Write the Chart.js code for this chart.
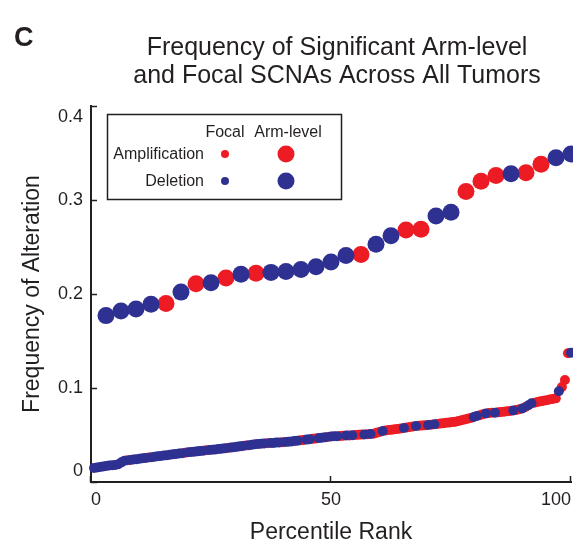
<!DOCTYPE html>
<html>
<head>
<meta charset="utf-8">
<script src="https://cdn.jsdelivr.net/npm/chart.js@4.4.1/dist/chart.umd.min.js"></script>
<style>
  html, body { margin: 0; padding: 0; background: #fff; }
</style>
</head>
<body>
<canvas id="scnaChart" width="573" height="546"></canvas>
<script>
// Arm-level SCNAs, sorted by frequency (A = amplification, D = deletion)
const armFreq = [
  0.177, 0.182, 0.184, 0.189, 0.190, 0.202, 0.211, 0.212, 0.217, 0.221,
  0.222, 0.223, 0.224, 0.226, 0.229, 0.234, 0.241, 0.242, 0.253, 0.262,
  0.268, 0.269, 0.283, 0.287, 0.309, 0.320, 0.326, 0.328, 0.329, 0.338,
  0.345, 0.349
];
const armType = 'DDDDADADADADDDDDDADDAADDAAADAADD';

// Focal SCNAs, sorted by frequency
const focalFreq = [
  0.0149, 0.0155, 0.0160, 0.0165, 0.0171, 0.0175, 0.0179, 0.0181, 0.0189, 0.0209,
  0.0227, 0.0231, 0.0235, 0.0239, 0.0243, 0.0248, 0.0252, 0.0256, 0.0260, 0.0264,
  0.0268, 0.0273, 0.0277, 0.0281, 0.0285, 0.0290, 0.0294, 0.0298, 0.0303, 0.0307,
  0.0311, 0.0316, 0.0320, 0.0323, 0.0326, 0.0330, 0.0333, 0.0337, 0.0340, 0.0344,
  0.0347, 0.0351, 0.0354, 0.0358, 0.0361, 0.0366, 0.0370, 0.0374, 0.0379, 0.0383,
  0.0388, 0.0392, 0.0396, 0.0401, 0.0404, 0.0407, 0.0409, 0.0412, 0.0414, 0.0416,
  0.0419, 0.0421, 0.0424, 0.0426, 0.0429, 0.0432, 0.0436, 0.0440, 0.0444, 0.0447,
  0.0451, 0.0455, 0.0459, 0.0463, 0.0467, 0.0471, 0.0475, 0.0480, 0.0484, 0.0486,
  0.0488, 0.0490, 0.0492, 0.0494, 0.0496, 0.0498, 0.0500, 0.0502, 0.0504, 0.0506,
  0.0508, 0.0510, 0.0513, 0.0523, 0.0533, 0.0543, 0.0548, 0.0553, 0.0557, 0.0561,
  0.0565, 0.0569, 0.0574, 0.0579, 0.0585, 0.0590, 0.0595, 0.0599, 0.0601, 0.0604,
  0.0607, 0.0610, 0.0614, 0.0618, 0.0622, 0.0626, 0.0630, 0.0634, 0.0637, 0.0641,
  0.0648, 0.0657, 0.0666, 0.0673, 0.0682, 0.0692, 0.0702, 0.0711, 0.0721, 0.0730,
  0.0734, 0.0736, 0.0737, 0.0741, 0.0745, 0.0748, 0.0752, 0.0756, 0.0760, 0.0767,
  0.0775, 0.0782, 0.0798, 0.0817, 0.0837, 0.0844, 0.0851, 0.0858, 0.0864, 0.0871,
  0.0877, 0.0884, 0.0890, 0.0965, 0.1010, 0.1086, 0.1370, 0.1376
];
const focalType =
  'DDDDDDDDDD' + 'DADDDDDDAD' + 'DDDDDDDDDD' + 'ADDDDDDADD' +
  'DDDDADDDDD' + 'ADDDDDDADD' + 'DDADDDDDAA' + 'DDAADDDADD' +
  'DAADADAAAD' + 'ADAAADAAAA' + 'AADAAADAAA' + 'DADAAAAAAA' +
  'AAAAADDAAD' + 'AADAAAAADA' + 'ADADDAAAAA' + 'AAADAAAD';

const xTicks = [0, 50, 100];
const yTicks = [0, 0.1, 0.2, 0.3, 0.4];
const titleLines = ['Frequency of Significant Arm-level', 'and Focal SCNAs Across All Tumors'];

const RED = '#ed1c24';
const BLUE = '#2e3192';
const INK = '#231f20';
const FONT = '"Liberation Sans", Arial, Helvetica, sans-serif';

// percentile rank of each alteration within its own list
function toPoints(freq, types, want) {
    const pts = [];
    freq.forEach((f, i) => {
        if (types[i] === want) pts.push({ x: (i + 1) / freq.length * 100, y: f });
    });
    return pts;
}

// panel letter, title, inward ticks and the key
const decorPlugin = {
    id: 'decor',
    afterDraw(chart) {
        const { ctx, chartArea, scales: { x, y } } = chart;
        ctx.save();

        ctx.strokeStyle = INK;
        ctx.lineWidth = 1.5;
        ctx.beginPath();
        xTicks.forEach(v => {
            const px = Math.round(x.getPixelForValue(v)) - 0.5;
            ctx.moveTo(px, chartArea.bottom);
            ctx.lineTo(px, chartArea.bottom - 6);
        });
        yTicks.forEach(v => {
            const py = Math.round(y.getPixelForValue(v)) + 0.5;
            ctx.moveTo(chartArea.left, py);
            ctx.lineTo(chartArea.left + 6, py);
        });
        ctx.stroke();

        ctx.fillStyle = INK;
        ctx.textBaseline = 'alphabetic';
        ctx.textAlign = 'left';
        ctx.font = 'bold 27px ' + FONT;
        ctx.fillText('C', 14, 46);

        ctx.font = '25px ' + FONT;
        ctx.textAlign = 'center';
        titleLines.forEach((t, k) => ctx.fillText(t, 337, 55 + k * 28));

        // key box
        ctx.lineWidth = 1.5;
        ctx.strokeRect(107.5, 114.5, 234, 85);
        ctx.font = '16px ' + FONT;
        ctx.fillText('Focal', 225, 137);
        ctx.fillText('Arm-level', 288, 137);
        ctx.textAlign = 'right';
        ctx.fillText('Amplification', 204, 159);
        ctx.fillText('Deletion', 204, 186);

        const dot = (cx, cy, r, c) => {
            ctx.fillStyle = c;
            ctx.beginPath();
            ctx.arc(cx, cy, r, 0, Math.PI * 2);
            ctx.fill();
        };
        dot(225, 154, 4, RED);
        dot(286, 154, 8.5, RED);
        dot(225, 181, 4, BLUE);
        dot(286, 181, 8.5, BLUE);

        ctx.restore();
    }
};

document.addEventListener('DOMContentLoaded', () => {
    Chart.defaults.font.family = FONT;
    Chart.defaults.color = INK;

    const ctx = document.getElementById('scnaChart').getContext('2d');

    new Chart(ctx, {
        type: 'scatter',
        data: {
            datasets: [
                {
                    label: 'Arm-level deletion',
                    data: toPoints(armFreq, armType, 'D'),
                    backgroundColor: BLUE, pointRadius: 8.5, borderWidth: 0,
                    order: 0, clip: false
                },
                {
                    label: 'Arm-level amplification',
                    data: toPoints(armFreq, armType, 'A'),
                    backgroundColor: RED, pointRadius: 8.5, borderWidth: 0,
                    order: 1, clip: false
                },
                {
                    label: 'Focal deletion',
                    data: toPoints(focalFreq, focalType, 'D'),
                    backgroundColor: BLUE, pointRadius: 5, borderWidth: 0,
                    order: 2, clip: false
                },
                {
                    label: 'Focal amplification',
                    data: toPoints(focalFreq, focalType, 'A'),
                    backgroundColor: RED, pointRadius: 5, borderWidth: 0,
                    order: 3, clip: false
                }
            ]
        },
        options: {
            responsive: false,
            animation: false,
            events: [],
            // no extra room for point overflow: the last dots run into the edge
            layout: { autoPadding: false, padding: { top: 106, right: 2, bottom: 0, left: 0 } },
            plugins: {
                legend: { display: false },
                tooltip: { enabled: false }
            },
            scales: {
                x: {
                    type: 'linear', min: 0, max: 100,
                    afterBuildTicks: s => { s.ticks = xTicks.map(v => ({ value: v })); },
                    afterFit: s => { s.height = 64; },
                    grid: { display: false, drawTicks: false },
                    border: { display: true, color: INK, width: 2 },
                    ticks: { align: 'inner', padding: 0, color: INK, font: { size: 18, lineHeight: 1.95 } },
                    title: {
                        display: true, text: 'Percentile Rank', color: INK,
                        font: { size: 23 }, padding: { top: 0, bottom: 0 }
                    }
                },
                y: {
                    type: 'linear', min: 0, max: 0.4,
                    afterBuildTicks: s => { s.ticks = yTicks.map(v => ({ value: v })); },
                    afterFit: s => { s.width = 91; },
                    grid: { display: false, drawTicks: false },
                    border: { display: true, color: INK, width: 2 },
                    ticks: {
                        padding: 8, color: INK, font: { size: 18 },
                        // end labels sit inside the axis span, as in the original
                        callback: v => {
                            const s = String(Number(v.toFixed(1)));
                            if (v === yTicks[yTicks.length - 1]) return ['', s];
                            if (v === yTicks[0]) return [s, ''];
                            return s;
                        }
                    },
                    title: {
                        display: true, text: 'Frequency of Alteration', color: INK,
                        font: { size: 23 }, padding: { top: 19, bottom: 0 }
                    }
                }
            }
        },
        plugins: [decorPlugin]
    });
});
</script>
</body>
</html>
